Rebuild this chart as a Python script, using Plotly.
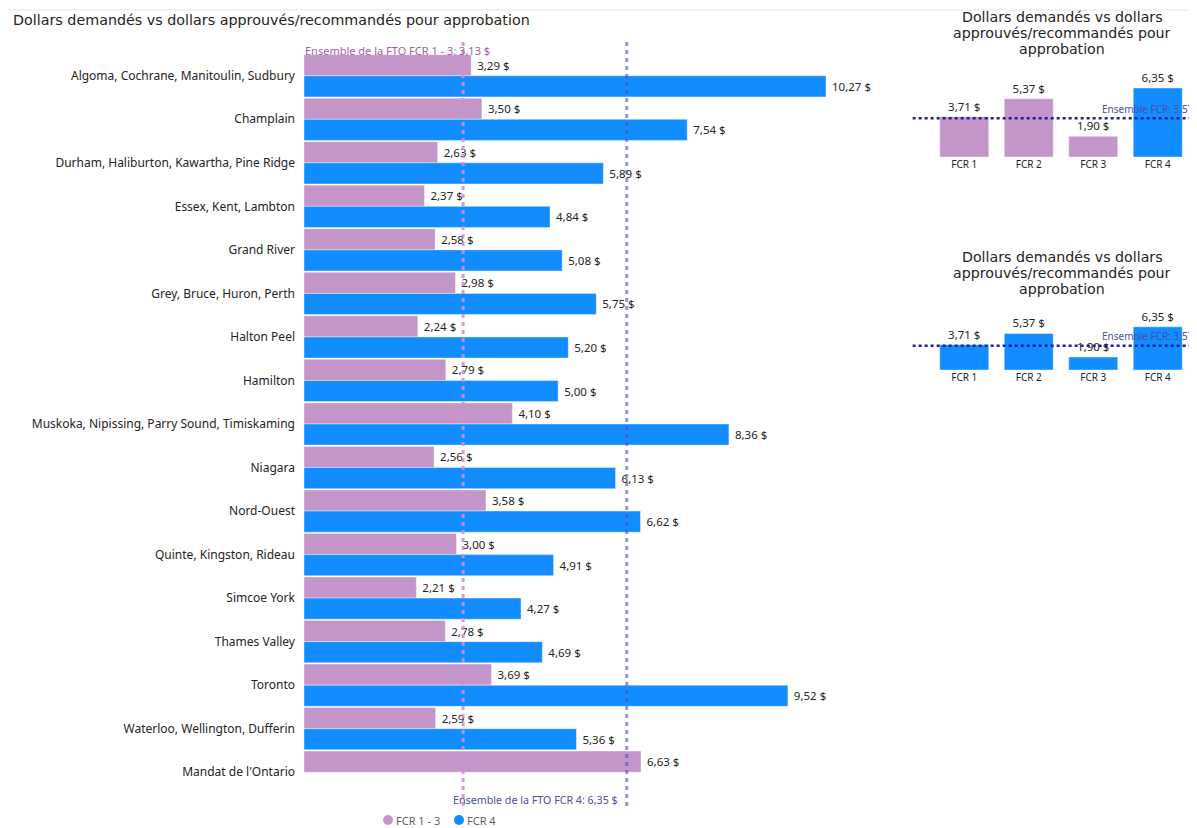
"""
Dollars demandés vs dollars approuvés/recommandés - réplique Plotly.
"""
import plotly.graph_objects as go

# page body keeps its default 8px margin, so the figure is drawn 8px in
OFF = 8
W, H = 1197 - OFF, 828 - OFF

regions = [
    "Algoma, Cochrane, Manitoulin, Sudbury", "Champlain",
    "Durham, Haliburton, Kawartha, Pine Ridge", "Essex, Kent, Lambton",
    "Grand River", "Grey, Bruce, Huron, Perth", "Halton Peel", "Hamilton",
    "Muskoka, Nipissing, Parry Sound, Timiskaming", "Niagara", "Nord-Ouest",
    "Quinte, Kingston, Rideau", "Simcoe York", "Thames Valley", "Toronto",
    "Waterloo, Wellington, Dufferin", "Mandat de l'Ontario",
]
fcr_1_3 = [3.29, 3.50, 2.63, 2.37, 2.58, 2.98, 2.24, 2.79, 4.10, 2.56,
           3.58, 3.00, 2.21, 2.78, 3.69, 2.59, 6.63]
fcr_4 = [10.27, 7.54, 5.89, 4.84, 5.08, 5.75, 5.20, 5.00, 8.36, 6.13,
         6.62, 4.91, 4.27, 4.69, 9.52, 5.36, None]
avg_fcr_1_3 = 3.13
avg_fcr_4 = 6.35

fcr_cats = ["FCR 1", "FCR 2", "FCR 3", "FCR 4"]
fcr_values = [3.71, 5.37, 1.90, 6.35]
avg_fcr = 3.57

PURPLE = "#C495C8"
BLUE = "#118DFF"
TXT = "#252423"
FONT = "Noto Sans"
TITLE_FONT = "DejaVu Sans"


def px_x(p):
    """screen pixel -> paper x"""
    return (p - OFF) / W


def px_y(p):
    """screen pixel -> paper y"""
    return 1 - (p - OFF) / H


def fr(v):
    return f"{v:.2f}".replace(".", ",")


fig = go.Figure()
edge = dict(color="rgba(255,255,255,0.4)", width=1)
bar_label = "\u00a0%{x:.2f} $"

# main grouped bars
fig.add_trace(go.Bar(
    y=regions, x=fcr_1_3, orientation="h", name="FCR 1 - 3",
    marker=dict(color=PURPLE, line=edge),
    texttemplate=bar_label, textposition="outside",
    textfont=dict(size=11.5, color=TXT), cliponaxis=False,
    xaxis="x", yaxis="y",
))
fig.add_trace(go.Bar(
    y=regions, x=fcr_4, orientation="h", name="FCR 4",
    marker=dict(color=BLUE, line=edge),
    texttemplate=bar_label, textposition="outside",
    textfont=dict(size=11.5, color=TXT), cliponaxis=False,
    xaxis="x", yaxis="y",
))

# small panels
fig.add_trace(go.Bar(
    x=fcr_cats, y=fcr_values, width=0.76,
    marker=dict(color=[PURPLE, PURPLE, PURPLE, BLUE], line=edge),
    texttemplate="%{y:.2f} $", textposition="outside",
    textfont=dict(size=11.5, color=TXT), cliponaxis=False,
    xaxis="x2", yaxis="y2",
))
fig.add_trace(go.Bar(
    x=fcr_cats, y=fcr_values, width=0.76,
    marker=dict(color=BLUE, line=edge),
    texttemplate="%{y:.2f} $", textposition="outside",
    textfont=dict(size=11.5, color=TXT), cliponaxis=False,
    xaxis="x3", yaxis="y3",
))

main_left, main_right = 304, 880
scale = (826 - 304) / 10.27

fig.update_layout(
    width=W, height=H,
    margin=dict(l=0, r=0, t=0, b=0, autoexpand=False),
    plot_bgcolor="white", paper_bgcolor="white",
    separators=", ",
    font=dict(family=FONT, color=TXT),
    barmode="group", bargap=0.03, bargroupgap=0,
    showlegend=False,
    xaxis=dict(domain=[px_x(main_left), px_x(main_right)],
               range=[0, (main_right - main_left) / scale],
               visible=False, anchor="y"),
    yaxis=dict(domain=[px_y(794), px_y(54)], autorange="reversed",
               showgrid=False, zeroline=False, showline=False, ticks="",
               tickfont=dict(size=12, color=TXT), anchor="x",
               ticklabelstandoff=8),
    xaxis2=dict(domain=[px_x(932), px_x(1190)], anchor="y2",
                showgrid=False, showline=False, ticks="",
                tickfont=dict(size=10, color=TXT)),
    yaxis2=dict(domain=[px_y(157), px_y(75.5)], range=[0, 7.5],
                visible=False, anchor="x2"),
    xaxis3=dict(domain=[px_x(932), px_x(1190)], anchor="y3",
                showgrid=False, showline=False, ticks="",
                tickfont=dict(size=10, color=TXT)),
    yaxis3=dict(domain=[px_y(370), px_y(319)], range=[0, 7.5],
                visible=False, anchor="x3"),
)

# reference lines, main chart
fig.add_shape(type="line", xref="x", yref="paper",
              x0=avg_fcr_1_3, x1=avg_fcr_1_3, y0=px_y(806), y1=px_y(38),
              line=dict(color="rgba(205,145,212,0.9)", width=3, dash="4px,4px"),
              layer="above")
fig.add_shape(type="line", xref="x", yref="paper",
              x0=avg_fcr_4, x1=avg_fcr_4, y0=px_y(806), y1=px_y(38),
              line=dict(color="rgba(80,80,195,0.6)", width=3, dash="4px,4px"),
              layer="above")
fig.add_annotation(xref="paper", yref="paper", x=px_x(303), y=px_y(50),
                   xanchor="left", yanchor="middle", showarrow=False,
                   text="Ensemble de la FTO FCR 1 - 3: " + fr(avg_fcr_1_3) + " $",
                   font=dict(size=11, color="#9B62A3"))
fig.add_annotation(xref="x", yref="paper", x=avg_fcr_4, y=px_y(800),
                   xanchor="right", yanchor="middle", showarrow=False, xshift=-7,
                   text="Ensemble de la FTO FCR 4: " + fr(avg_fcr_4) + " $",
                   font=dict(size=10.7, color="#4A4FA8"))

# reference lines, small panels
for xr, yr, top in (("x2", "y2", 109), ("x3", "y3", 336)):
    fig.add_shape(type="line", xref=xr + " domain", yref=yr,
                  x0=-0.075, x1=1.03, y0=avg_fcr, y1=avg_fcr,
                  line=dict(color="#1F1F9E", width=2.5, dash="dot"), layer="above")
    fig.add_annotation(xref="paper", yref="paper", x=px_x(1196), y=px_y(top),
                       xanchor="right", yanchor="middle", showarrow=False,
                       text="Ensemble FCR: " + fr(avg_fcr),
                       font=dict(size=10, color="#4A4FA8"))

# titles
fig.add_annotation(xref="paper", yref="paper", x=px_x(11), y=px_y(20),
                   xanchor="left", yanchor="middle", showarrow=False,
                   text="Dollars demandés vs dollars approuvés/recommandés pour approbation",
                   font=dict(size=14.3, color=TXT, family=TITLE_FONT))
panel_lines = ["Dollars demandés vs dollars", "approuvés/recommandés pour", "approbation"]
for first in (17, 257):
    for i, line in enumerate(panel_lines):
        fig.add_annotation(xref="paper", yref="paper", x=px_x(1062),
                           y=px_y(first + 16 * i),
                           xanchor="center", yanchor="middle", showarrow=False,
                           text=line,
                           font=dict(size=14.2, color=TXT, family=TITLE_FONT))

# legend drawn by hand: circle + label
legend_items = [("FCR 1 - 3", PURPLE, 388), ("FCR 4", BLUE, 459)]
for label, color, cx in legend_items:
    fig.add_shape(type="circle", xref="paper", yref="paper",
                  x0=px_x(cx - 5), x1=px_x(cx + 5),
                  y0=px_y(825), y1=px_y(815),
                  fillcolor=color, line=dict(width=0))
    fig.add_annotation(xref="paper", yref="paper", x=px_x(cx + 6), y=px_y(820),
                       xanchor="left", yanchor="middle", showarrow=False,
                       text=label, font=dict(size=11, color="#605E5C"))

# faint page border on top
fig.add_shape(type="line", xref="paper", yref="paper", x0=0, x1=1,
              y0=px_y(10), y1=px_y(10), line=dict(color="#E6E6E6", width=1))

fig.write_html("out.html")
